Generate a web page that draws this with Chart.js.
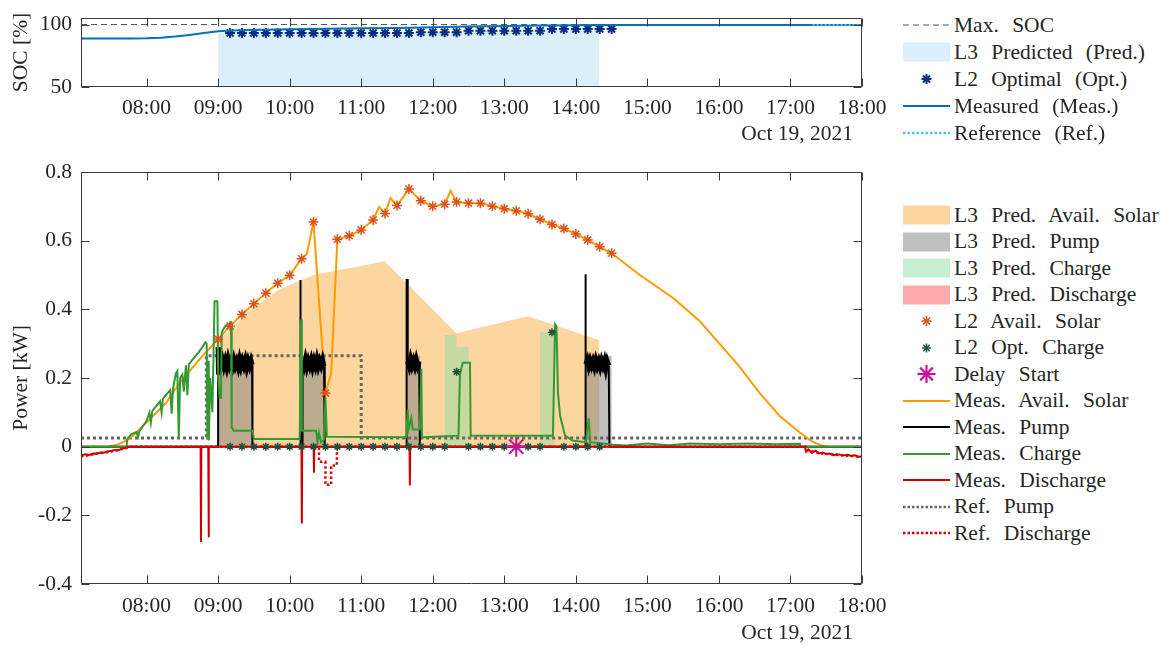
<!DOCTYPE html>
<html><head><meta charset="utf-8">
<script src="https://cdn.jsdelivr.net/npm/chart.js@4.4.1/dist/chart.umd.min.js"></script>
<style>
html,body{margin:0;padding:0;background:#fff;width:1170px;height:646px;overflow:hidden;position:relative;}
#c1{position:absolute;left:0;top:-4px;}
#c2{position:absolute;left:0;top:150px;}
.txt{position:absolute;font-family:"Liberation Serif","Times New Roman",serif;font-size:21.5px;color:#262626;white-space:nowrap;line-height:26px;}
.leg{position:absolute;left:903px;top:0;font-family:"Liberation Serif","Times New Roman",serif;font-size:21.5px;color:#262626;}
.row{position:absolute;left:0;height:26px;display:flex;align-items:center;white-space:nowrap;word-spacing:8px;}
.row svg{width:47px;height:26px;margin-right:4px;flex:none;}
</style></head>
<body>
<canvas id="c1" width="900" height="150"></canvas>
<canvas id="c2" width="900" height="496"></canvas>
<div class="txt" style="right:317px;top:120px;">Oct 19, 2021</div>
<div class="txt" style="right:317px;top:619px;">Oct 19, 2021</div>
<div class="leg" id="leg"></div>
<script>
// ---------- axis ticks ----------
const T0 = 7.0833, T1 = 18;
const timeTicks = [8, 9, 10, 11, 12, 13, 14, 15, 16, 17, 18];
const timeLabels = ['08:00','09:00','10:00','11:00','12:00','13:00','14:00','15:00','16:00','17:00','18:00'];
const socTicks = [50, 100];
const socTickLabels = ['50', '100'];
const powerTicks = [-0.4, -0.2, 0, 0.2, 0.4, 0.6, 0.8];
const powerTickLabels = ['-0.4', '-0.2', '0', '0.2', '0.4', '0.6', '0.8'];

// ---------- SOC panel data ----------
const maxSoc = [[7.0833,100],[18,100]];
const socPredicted = [[9.0,93.0],[11.8,93.2],[12.0,93.7],[12.4,94.6],[12.5,94.9],[13.5,95.2],[13.6,96.0],[14.33,96.3]];
const socOptTimes = ['09:10','09:20','09:30','09:40','09:50','10:00','10:10','10:20','10:30','10:40','10:50','11:00','11:10','11:20','11:30','11:40','11:50','12:00','12:10','12:20','12:30','12:40','12:50','13:00','13:10','13:20','13:30','13:40','13:50','14:00','14:10','14:20','14:30'];
const socOptValues = [93.2,93.2,93.2,93.2,93.2,93.2,93.2,93.2,93.2,93.2,93.2,93.2,93.2,93.2,93.2,93.2,93.9,93.9,93.9,93.9,95.1,95.1,95.1,95.1,95.1,95.1,95.1,96.4,96.4,96.4,96.4,96.4,96.4];
const socMeasured = [[7.0833,88.8],[7.5,88.8],[7.8,88.8],[8.0,89.0],[8.2,89.5],[8.4,90.4],[8.6,91.7],[8.8,93.2],[9.0,94.6],[9.2,95.2],[9.6,95.8],[10.0,96.2],[10.5,96.6],[11.0,97.0],[11.5,97.3],[12.0,97.8],[12.5,98.4],[13.0,98.9],[13.5,99.3],[14.0,99.5],[14.5,99.6],[18,99.6]];
const socReference = [[17.31,99.7],[18,99.7]];

// ---------- Power panel data ----------
const predSolar = [[9.0,0.313],[9.18,0.338],[9.37,0.385],[9.84,0.456],[10.33,0.50],[11.33,0.54],[12.33,0.33],[13.33,0.38],[14.33,0.31]];
const predPump = [[7.0833,0],[9.0,0],[9.0,0.265],[9.48,0.265],[9.48,0],[10.17,0],[10.17,0.265],[10.5,0.265],[10.5,0],[11.65,0],[11.65,0.265],[11.82,0.265],[11.82,0],[14.14,0],[14.14,0.265],[14.5,0.265],[14.5,0],[18,0]];
const predCharge = [[7.0833,0],[12.17,0],[12.17,0.325],[12.33,0.325],[12.33,0.291],[12.5,0.291],[12.5,0],[13.5,0],[13.5,0.334],[13.7,0.334],[13.7,0],[18,0]];
const predDischarge = [];
const l2SolarTimes = ['09:00','09:10','09:20','09:30','09:40','09:50','10:00','10:10','10:20','10:30','10:40','10:50','11:00','11:10','11:20','11:30','11:40','11:50','12:00','12:10','12:20','12:30','12:40','12:50','13:00','13:10','13:20','13:30','13:40','13:50','14:00','14:10','14:20','14:30'];
const l2SolarValues = [0.313,0.351,0.385,0.416,0.447,0.476,0.499,0.547,0.654,0.156,0.604,0.614,0.631,0.660,0.679,0.702,0.750,0.716,0.700,0.706,0.712,0.709,0.709,0.700,0.693,0.687,0.678,0.662,0.647,0.635,0.619,0.602,0.582,0.563];
const l2ChargeTimes = ['09:10','09:20','09:30','09:40','09:50','10:00','10:10','10:20','10:30','10:40','10:50','11:00','11:10','11:20','11:30','11:40','11:50','12:00','12:10','12:20','12:30','12:40','12:50','13:00','13:10','13:20','13:30','13:40','13:50','14:00','14:10','14:20'];
const l2ChargeValues = [0,0,0,0,0,0,0,0,0,0,0,0,0,0,0,0,0,0,0,0.218,0,0,0,0,0,0,0,0.333,0,0,0,0];
const delayStart = [[13.167,0]];
const solarMeas = [[7.0833,0],[7.45,0],[7.53,0.003],[7.62,0.008],[7.72,0.018],[7.81,0.032],[7.90,0.051],[8.0,0.07],[8.09,0.089],[8.27,0.127],[8.46,0.185],[8.65,0.232],[8.83,0.275],[9.0,0.313],[9.167,0.351],[9.333,0.385],[9.5,0.416],[9.667,0.447],[9.833,0.476],[10.0,0.499],[10.167,0.547],[10.24,0.561],[10.333,0.654],[10.5,0.156],[10.58,0.213],[10.667,0.604],[10.833,0.614],[11.0,0.631],[11.167,0.660],[11.25,0.698],[11.333,0.679],[11.41,0.724],[11.5,0.702],[11.667,0.750],[11.833,0.716],[12.0,0.700],[12.167,0.706],[12.25,0.745],[12.333,0.712],[12.5,0.709],[12.667,0.709],[12.833,0.700],[13.0,0.693],[13.167,0.687],[13.333,0.678],[13.5,0.662],[13.667,0.647],[13.833,0.635],[14.0,0.619],[14.167,0.602],[14.333,0.582],[14.5,0.563],[14.9,0.499],[15.36,0.433],[15.73,0.366],[16.01,0.299],[16.29,0.232],[16.57,0.156],[16.85,0.089],[17.13,0.041],[17.3,0.015],[17.41,0.005],[17.5,0],[18,0]];
const pumpMeas = [[7.0833,0],[9.0,0],[9.0,0.29],[9.005,0.21],[9.02,0.248],[9.04,0.236],[9.06,0.252],[9.08,0.234],[9.1,0.25],[9.12,0.232],[9.14,0.254],[9.16,0.236],[9.18,0.249],[9.2,0.233],[9.22,0.252],[9.24,0.235],[9.26,0.248],[9.28,0.232],[9.3,0.253],[9.32,0.234],[9.34,0.25],[9.36,0.236],[9.38,0.252],[9.4,0.231],[9.42,0.249],[9.44,0.235],[9.46,0.25],[9.475,0.238],[9.48,0],
  [10.145,0],[10.145,0.485],[10.155,0.485],[10.155,0],[10.18,0],[10.18,0.25],[10.2,0.235],[10.22,0.254],[10.24,0.233],[10.26,0.25],[10.28,0.236],[10.3,0.252],[10.32,0.232],[10.34,0.25],[10.36,0.235],[10.38,0.254],[10.4,0.234],[10.42,0.249],[10.44,0.236],[10.46,0.252],[10.48,0.234],[10.49,0],
  [11.635,0],[11.635,0.485],[11.65,0.485],[11.65,0.248],[11.67,0.234],[11.69,0.254],[11.71,0.236],[11.73,0.25],[11.75,0.235],[11.77,0.253],[11.79,0.236],[11.81,0.248],[11.82,0],
  [14.13,0],[14.13,0.502],[14.14,0.502],[14.14,0.24],[14.16,0.252],[14.18,0.234],[14.2,0.25],[14.22,0.236],[14.24,0.249],[14.26,0.233],[14.28,0.251],[14.3,0.235],[14.32,0.248],[14.34,0.232],[14.36,0.25],[14.38,0.236],[14.4,0.25],[14.42,0.228],[14.44,0.248],[14.46,0.236],[14.47,0],[18,0]];
const chargeMeas = [[7.0833,0],[7.72,0],[7.73,0.022],[7.78,0.035],[7.86,0.043],[7.88,0.028],[7.9,0.045],[8.0,0.075],[8.04,0.099],[8.06,0.07],[8.08,0.104],[8.19,0.132],[8.21,0.099],[8.23,0.14],[8.33,0.165],[8.35,0.096],[8.37,0.17],[8.41,0.213],[8.43,0.22],[8.45,0.022],[8.47,0.2],[8.5,0.21],[8.52,0.16],[8.55,0.237],[8.57,0.15],[8.59,0.24],[8.73,0.275],[8.78,0.29],[8.82,0.304],[8.84,0.3],[8.85,0.02],[8.86,0.25],[8.87,0.018],[8.89,0.2],[8.92,0.1],[8.95,0.423],[8.99,0.423],[9.0,0.208],[9.02,0.142],[9.04,0.142],[9.05,0.333],[9.1,0.351],[9.18,0.361],[9.19,0.056],[9.22,0.046],[9.48,0.046],[9.5,0.022],[10.14,0.022],[10.16,0.37],[10.17,0.046],[10.37,0.046],[10.39,0.013],[10.41,0.04],[10.44,0.013],[10.48,0.02],[10.5,0.142],[10.52,0.029],[11.63,0.027],[11.65,0.108],[11.66,0.05],[11.7,0.084],[11.72,0.05],[11.82,0.05],[11.84,0.227],[11.85,0.027],[12.36,0.032],[12.38,0.21],[12.42,0.244],[12.52,0.244],[12.53,0.032],[13.68,0.032],[13.71,0.356],[13.73,0.35],[13.75,0.156],[13.78,0.09],[13.85,0.032],[13.95,0.018],[14.14,0.013],[14.18,0.082],[14.2,0.013],[14.5,0.006],[14.7,0.003],[15.0,0.009],[15.3,0.004],[15.6,0.009],[16.0,0.007],[16.4,0.009],[16.8,0.007],[17.13,0.008],[17.14,0],[18,0]];
const dischargeMeas = [[7.0833,-0.025],[7.15,-0.022],[7.2,-0.024],[7.25,-0.02],[7.3,-0.021],[7.35,-0.017],[7.4,-0.018],[7.45,-0.014],[7.5,-0.013],[7.55,-0.01],[7.6,-0.011],[7.65,-0.006],[7.7,-0.004],[7.75,0],[8.755,0],[8.76,-0.278],[8.765,0],[8.862,0],[8.867,-0.264],[8.872,0],[10.165,0],[10.17,-0.224],[10.175,0],[10.335,0],[10.34,-0.076],[10.345,0],[11.675,0],[11.68,-0.113],[11.685,0],[17.2,0],[17.22,-0.015],[17.25,-0.008],[17.3,-0.018],[17.35,-0.012],[17.4,-0.02],[17.45,-0.017],[17.5,-0.022],[17.55,-0.02],[17.6,-0.025],[17.65,-0.022],[17.7,-0.024],[17.75,-0.025],[17.8,-0.024],[17.85,-0.027],[17.9,-0.025],[17.95,-0.03],[18,-0.028]];
const refPump = [[7.0833,0.025],[8.835,0.025],[8.835,0.265],[11.0,0.265],[11.0,0.025],[18,0.025]];
const refDischarge = [[7.0833,-0.028],[7.2,-0.025],[7.3,-0.02],[7.4,-0.018],[7.5,-0.014],[7.6,-0.01],[7.7,-0.005],[7.78,0],[10.41,0],[10.41,-0.044],[10.5,-0.044],[10.5,-0.111],[10.58,-0.111],[10.58,-0.055],[10.66,-0.055],[10.66,0],[17.22,0],[17.25,-0.012],[17.35,-0.016],[17.45,-0.02],[17.55,-0.022],[17.65,-0.024],[17.75,-0.026],[17.85,-0.027],[18,-0.03]];

// ---------- helpers ----------
const FONT = {family:'"Liberation Serif","Times New Roman",serif', size:21.5};
const INK = '#262626';
const toXY = a => a.map(p => ({x:p[0], y:p[1]}));
const hrs = s => { const [h,m] = s.split(':').map(Number); return h + m/60; };
const zip = (ts, vs) => ts.map((t,i) => ({x:hrs(t), y:vs[i]}));

function lineDs(label, data, color, width, dash){
  return {label, data, borderColor:color, backgroundColor:color, borderWidth:width, borderDash:dash||[], pointRadius:0, fill:false, tension:0, borderCapStyle:'butt'};
}
function starDs(label, data, color, r, w){
  return {label, data, showLine:false, pointStyle:'star', pointRadius:r, pointBorderWidth:w, pointBorderColor:color, borderColor:color, backgroundColor:color};
}
function fillDs(label, data, color, target){
  return {label, data, borderWidth:0, pointRadius:0, fill:target, backgroundColor:color, borderColor:'rgba(0,0,0,0)', tension:0};
}

const boxTicks = {
  id:'boxTicks',
  afterDatasetsDraw(chart){
    const {ctx, chartArea:a, scales:{x, y}} = chart;
    ctx.save();
    ctx.strokeStyle = '#3a3a3a'; ctx.lineWidth = 1;
    const L = Math.round(a.left)+0.5, R = Math.round(a.right)-0.5, T = Math.round(a.top)+0.5, B = Math.round(a.bottom)-0.5;
    ctx.beginPath();
    ctx.rect(L, T, R-L, B-T);
    x.ticks.forEach(t => { const px = Math.round(x.getPixelForValue(t.value))+0.5; ctx.moveTo(px,T); ctx.lineTo(px,T+8); ctx.moveTo(px,B); ctx.lineTo(px,B-8); });
    y.ticks.forEach(t => { const py = Math.round(y.getPixelForValue(t.value))+0.5; ctx.moveTo(L,py); ctx.lineTo(L+8,py); ctx.moveTo(R,py); ctx.lineTo(R-8,py); });
    ctx.stroke();
    ctx.restore();
  }
};

function xScale(pad){
  return {type:'linear', min:T0, max:T1,
    afterBuildTicks: s => { s.ticks = timeTicks.map(v => ({value:v})); },
    ticks:{autoSkip:false, maxRotation:0, minRotation:0, padding:pad, font:FONT, color:INK,
      callback: v => timeLabels[timeTicks.indexOf(v)]},
    grid:{display:false, drawTicks:false}, border:{display:false},
    afterFit: s => { s.height = 40; }};
}
function yScale(min, max, ticks, labels, title){
  return {type:'linear', min, max,
    afterBuildTicks: s => { s.ticks = ticks.map(v => ({value:v})); },
    ticks:{padding:9, font:FONT, color:INK, callback: v => labels[ticks.indexOf(v)]},
    grid:{display:false, drawTicks:false}, border:{display:false},
    title:{display:true, text:title, font:FONT, color:INK, padding:{top:8, bottom:0}},
    afterFit: s => { s.width = 81; }};
}
const common = (padBottom) => ({
  responsive:false, animation:false, events:[],
  layout:{padding:{left:0, right:38, top:15, bottom:padBottom}},
  plugins:{legend:{display:false}, tooltip:{enabled:false}}
});

// ---------- colours ----------
const C = {
  maxSoc:'#555555', socPred:'rgb(218,239,250)', socOpt:'#0b2d80', socMeas:'#0072BD', socRef:'#4DBEEE',
  predSolar:'rgb(253,213,158)', predPump:'rgba(128,128,128,0.5)', predCharge:'rgba(145,221,165,0.5)', predDis:'rgba(255,85,85,0.5)',
  l2Solar:'#D9531A', l2Charge:'#1f4f3c', delay:'#c8119b', measSolar:'#ff9a00', measPump:'#000000',
  measCharge:'#339933', measDis:'#cc0000', refPump:'#666666', refDis:'#dd0000'
};

// thick noisy band while the pump runs, thin line elsewhere
const pumpDs = lineDs('Meas. Pump', toXY(pumpMeas), C.measPump, 2);
pumpDs.segment = {borderWidth: c => {
  const a = c.p0.parsed.y, b = c.p1.parsed.y;
  return (a > 0.2 && a < 0.3 && b > 0.2 && b < 0.3) ? 5 : 2;
}};

// ---------- SOC chart ----------
new Chart(document.getElementById('c1'), {
  type:'line',
  data:{datasets:[
    lineDs('Reference (Ref.)', toXY(socReference), C.socRef, 2, [2,2]),
    lineDs('Measured (Meas.)', toXY(socMeasured), C.socMeas, 2),
    starDs('L2 Optimal (Opt.)', zip(socOptTimes, socOptValues), C.socOpt, 5, 2),
    lineDs('Max. SOC', toXY(maxSoc), C.maxSoc, 1, [6,4]),
    fillDs('L3 Predicted (Pred.)', toXY(socPredicted), C.socPred, 'start')
  ]},
  options:Object.assign(common(19), {scales:{x:xScale(8), y:yScale(50, 105.3, socTicks, socTickLabels, 'SOC [%]')}}),
  plugins:[boxTicks]
});

// ---------- Power chart ----------
new Chart(document.getElementById('c2'), {
  type:'line',
  data:{datasets:[
    starDs('Delay Start', toXY(delayStart), C.delay, 10, 2),
    starDs('L2 Opt. Charge', zip(l2ChargeTimes, l2ChargeValues), C.l2Charge, 4, 1.5),
    starDs('L2 Avail. Solar', zip(l2SolarTimes, l2SolarValues), C.l2Solar, 5, 1.5),
    lineDs('Ref. Discharge', toXY(refDischarge), C.refDis, 2.5, [2.5,2.5]),
    lineDs('Meas. Discharge', toXY(dischargeMeas), C.measDis, 2),
    lineDs('Meas. Charge', toXY(chargeMeas), C.measCharge, 2),
    pumpDs,
    lineDs('Meas. Avail. Solar', toXY(solarMeas), C.measSolar, 2),
    lineDs('Ref. Pump', toXY(refPump), C.refPump, 3, [3,3]),
    fillDs('L3 Pred. Discharge', toXY(predDischarge), C.predDis, 'origin'),
    fillDs('L3 Pred. Charge', toXY(predCharge), C.predCharge, 'origin'),
    fillDs('L3 Pred. Pump', toXY(predPump), C.predPump, 'origin'),
    fillDs('L3 Pred. Avail. Solar', toXY(predSolar), C.predSolar, 'origin')
  ]},
  options:Object.assign(common(22), {scales:{x:xScale(9), y:yScale(-0.4, 0.8, powerTicks, powerTickLabels, 'Power [kW]')}}),
  plugins:[boxTicks]
});

// ---------- legends ----------
function icon(it){
  let s = '';
  if (it.kind === 'patch') s = `<rect x="0" y="3.5" width="47" height="19" fill="${it.color}"/>`;
  else if (it.kind === 'line') s = `<line x1="0" y1="13" x2="47" y2="13" stroke="${it.color}" stroke-width="${it.w}" ${it.dash ? `stroke-dasharray="${it.dash}"` : ''}/>`;
  else if (it.kind === 'star') {
    const r = it.r, cx = 23.5, cy = 13, d = r*Math.SQRT1_2;
    s = `<g stroke="${it.color}" stroke-width="${it.w}"><line x1="${cx-r}" y1="${cy}" x2="${cx+r}" y2="${cy}"/><line x1="${cx}" y1="${cy-r}" x2="${cx}" y2="${cy+r}"/><line x1="${cx-d}" y1="${cy-d}" x2="${cx+d}" y2="${cy+d}"/><line x1="${cx-d}" y1="${cy+d}" x2="${cx+d}" y2="${cy-d}"/></g>`;
  }
  return `<svg viewBox="0 0 47 26">${s}</svg>`;
}
const legTop = [
  {label:'Max. SOC', kind:'line', color:C.maxSoc, w:1, dash:'6 4'},
  {label:'L3 Predicted (Pred.)', kind:'patch', color:C.socPred},
  {label:'L2 Optimal (Opt.)', kind:'star', color:C.socOpt, r:5, w:2},
  {label:'Measured (Meas.)', kind:'line', color:C.socMeas, w:2},
  {label:'Reference (Ref.)', kind:'line', color:C.socRef, w:2.5, dash:'2.5 2'}
];
const legBot = [
  {label:'L3 Pred. Avail. Solar', kind:'patch', color:C.predSolar},
  {label:'L3 Pred. Pump', kind:'patch', color:'rgb(191,191,191)'},
  {label:'L3 Pred. Charge', kind:'patch', color:'rgb(200,238,210)'},
  {label:'L3 Pred. Discharge', kind:'patch', color:'rgb(255,170,170)'},
  {label:'L2 Avail. Solar', kind:'star', color:C.l2Solar, r:5, w:1.5},
  {label:'L2 Opt. Charge', kind:'star', color:C.l2Charge, r:4.5, w:1.5},
  {label:'Delay Start', kind:'star', color:C.delay, r:9, w:2.2},
  {label:'Meas. Avail. Solar', kind:'line', color:C.measSolar, w:2},
  {label:'Meas. Pump', kind:'line', color:C.measPump, w:2},
  {label:'Meas. Charge', kind:'line', color:C.measCharge, w:2},
  {label:'Meas. Discharge', kind:'line', color:C.measDis, w:2},
  {label:'Ref. Pump', kind:'line', color:C.refPump, w:2.5, dash:'2.5 2'},
  {label:'Ref. Discharge', kind:'line', color:C.refDis, w:2.5, dash:'2.5 2'}
];
const leg = document.getElementById('leg');
let html = '';
legTop.forEach((it,i) => { html += `<div class="row" style="top:${25 + 27*i - 13}px">${icon(it)}<span>${it.label}</span></div>`; });
legBot.forEach((it,i) => { html += `<div class="row" style="top:${215 + 26.5*i - 13}px">${icon(it)}<span>${it.label}</span></div>`; });
leg.innerHTML = html;
</script>
</body></html>
